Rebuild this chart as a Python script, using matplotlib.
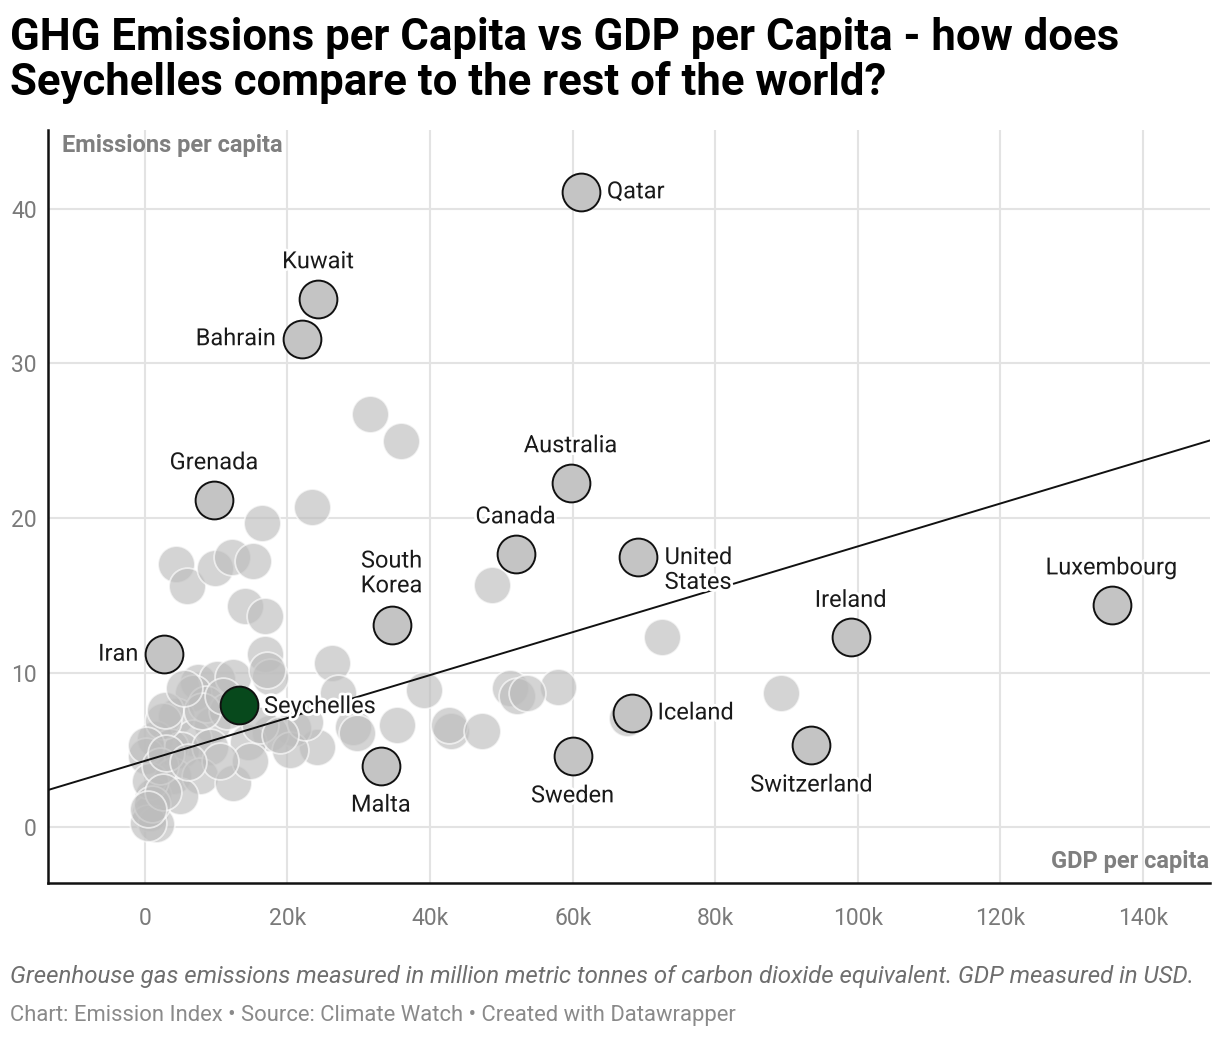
import matplotlib.pyplot as plt
import matplotlib.patheffects as pe

plt.rcParams['font.family'] = ['Roboto', 'DejaVu Sans']

# GDP per capita (thousand USD) and emissions per capita - unlabeled countries
gdp_other = [31.6, 35.9, 23.5, 16.4, 4.4, 5.9, 9.8, 12.2, 15.1, 14.1, 16.9, 16.9, 17.5,
             26.3, 27.1, 39.2, 35.4, 43.0, 42.6, 47.3, 48.7, 72.5, 57.9, 51.2, 52.2, 53.6,
             67.6, 89.2, 24.1, 29.2, 20.8, 17.5, 14.5, 7.5, 10.1, 12.4, 6.8, 4.4, 9.4, 6.8,
             1.4, 3.5, 0.2, 5.1, 9.1, 4.0, 7.7, 12.4, 1.2, 4.9, 0.7, 1.6, 0.5, 14.7, 10.5,
             17.1, 29.7, 20.3, 16.1, 2.5, 0.1, 2.8, 0.7, 2.1, 8.5, 11.5, 22.5, 19.0,
             3.0, 1.0, 2.5, 6.0, 8.0, 11.0, 5.5, 0.4]
emis_other = [26.7, 25.0, 20.7, 19.7, 17.0, 15.6, 16.8, 17.5, 17.2, 14.3, 13.7, 11.2, 9.7,
              10.6, 8.7, 8.9, 6.6, 6.2, 6.6, 6.2, 15.7, 12.3, 9.1, 9.0, 8.5, 8.7,
              7.1, 8.7, 5.2, 6.5, 6.4, 6.1, 5.5, 9.4, 9.6, 9.7, 8.7, 7.2, 6.6, 5.8,
              5.7, 5.2, 4.6, 5.0, 5.2, 3.3, 3.3, 2.9, 2.0, 2.0, 0.9, 0.2, 0.3, 4.3, 4.3,
              10.2, 6.1, 5.0, 6.6, 6.9, 5.3, 7.6, 3.0, 4.0, 8.0, 7.5, 6.8, 6.0,
              4.8, 1.5, 2.3, 4.2, 7.5, 8.5, 9.0, 1.2]

# labeled countries
names = ['Qatar', 'Kuwait', 'Bahrain', 'Grenada', 'Australia', 'Canada', 'United\nStates',
         'South\nKorea', 'Iran', 'Ireland', 'Luxembourg', 'Malta', 'Sweden', 'Iceland',
         'Switzerland']
gdp_lab = [61.2, 24.3, 22.0, 9.7, 59.7, 52.0, 69.1, 34.6, 2.7, 99.0, 135.6, 33.1, 60.0,
           68.3, 93.5]
emis_lab = [41.1, 34.2, 31.6, 21.2, 22.3, 17.7, 17.5, 13.1, 11.2, 12.3, 14.4, 4.0, 4.6,
            7.4, 5.3]
label_pos = ['right', 'above', 'left', 'above', 'above', 'above', 'right2', 'above2',
             'left', 'above', 'above', 'below', 'below', 'right', 'below']

seychelles_gdp = 13.2
seychelles_emis = 7.9

# trend line (intercept, slope per 1k USD)
trend_intercept = 4.3
trend_slope = 0.1387

x_min, x_max = -13.6, 149.4
y_min, y_max = -3.6, 45.1

fig = plt.figure(figsize=(12.2, 10.38), dpi=100)
ax = fig.add_axes([0.0393, 0.1493, 0.9525, 0.7255])

ax.set_xlim(x_min, x_max)
ax.set_ylim(y_min, y_max)

ax.scatter(gdp_other, emis_other, s=700, c='#bdbdbd', alpha=0.65,
           edgecolors='white', linewidths=1.3, zorder=2)

ax.plot([x_min, x_max],
        [trend_intercept + trend_slope * x_min, trend_intercept + trend_slope * x_max],
        color='#111111', lw=1.4, zorder=3)

ax.scatter(gdp_lab, emis_lab, s=740, c='#c4c4c4', edgecolors='#111111',
           linewidths=1.4, zorder=4)
ax.scatter([seychelles_gdp], [seychelles_emis], s=740, c='#07491c',
           edgecolors='#111111', linewidths=1.4, zorder=5)

halo = [pe.withStroke(linewidth=4, foreground='white')]
offsets = {
    'right': ((18.5, 0), 'left', 'center'),
    'left': ((-18.5, 0), 'right', 'center'),
    'above': ((0, 26.5), 'center', 'center'),
    'above2': ((0, 37), 'center', 'center'),
    'below': ((0, -28.5), 'center', 'center'),
    'right2': ((19.5, -9.5), 'left', 'center'),
}
for n, gx, gy, p in zip(names, gdp_lab, emis_lab, label_pos):
    off, ha, va = offsets[p]
    ax.annotate(n, (gx, gy), xytext=off, textcoords='offset points', ha=ha, va=va,
                fontsize=17, color='#1a1a1a', linespacing=1.1, zorder=6,
                path_effects=halo)
ax.annotate('Seychelles', (seychelles_gdp, seychelles_emis), xytext=(18, -1),
            textcoords='offset points', ha='left', va='center', fontsize=17,
            color='#1a1a1a', zorder=6, path_effects=halo)

ax.set_xticks([0, 20, 40, 60, 80, 100, 120, 140])
ax.set_xticklabels(['0', '20k', '40k', '60k', '80k', '100k', '120k', '140k'])
ax.set_yticks([0, 10, 20, 30, 40])
ax.grid(True, color='#e3e3e3', lw=1.5, zorder=0)
ax.set_axisbelow(True)
ax.tick_params(length=0, labelsize=16.5, labelcolor='#7a7a7a')
ax.tick_params(axis='x', pad=17)
ax.tick_params(axis='y', pad=8)
for s in ['top', 'right']:
    ax.spines[s].set_visible(False)
for s in ['left', 'bottom']:
    ax.spines[s].set_color('#111111')
    ax.spines[s].set_linewidth(1.8)

ax.text(0.012, 0.979, 'Emissions per capita', transform=ax.transAxes, ha='left',
        va='center', fontsize=17, fontweight='bold', color='#7f7f7f')
ax.text(0.999, 0.029, 'GDP per capita', transform=ax.transAxes, ha='right',
        va='center', fontsize=17, fontweight='bold', color='#7f7f7f')

fig.text(10 / 1220, 1 - 17 / 1038,
         'GHG Emissions per Capita vs GDP per Capita - how does\n'
         'Seychelles compare to the rest of the world?',
         ha='left', va='top', fontsize=31.5, fontweight='bold', color='black',
         linespacing=1.07)
fig.text(10 / 1220, 1 - 977 / 1038,
         'Greenhouse gas emissions measured in million metric tonnes of carbon dioxide '
         'equivalent. GDP measured in USD.',
         ha='left', va='center', fontsize=17.3, style='italic', color='#6e6e6e')
fig.text(10 / 1220, 1 - 1015 / 1038,
         'Chart: Emission Index \u2022 Source: Climate Watch \u2022 Created with Datawrapper',
         ha='left', va='center', fontsize=15.8, color='#8a8a8a')

fig.savefig('out.png', dpi=100, facecolor='white')
